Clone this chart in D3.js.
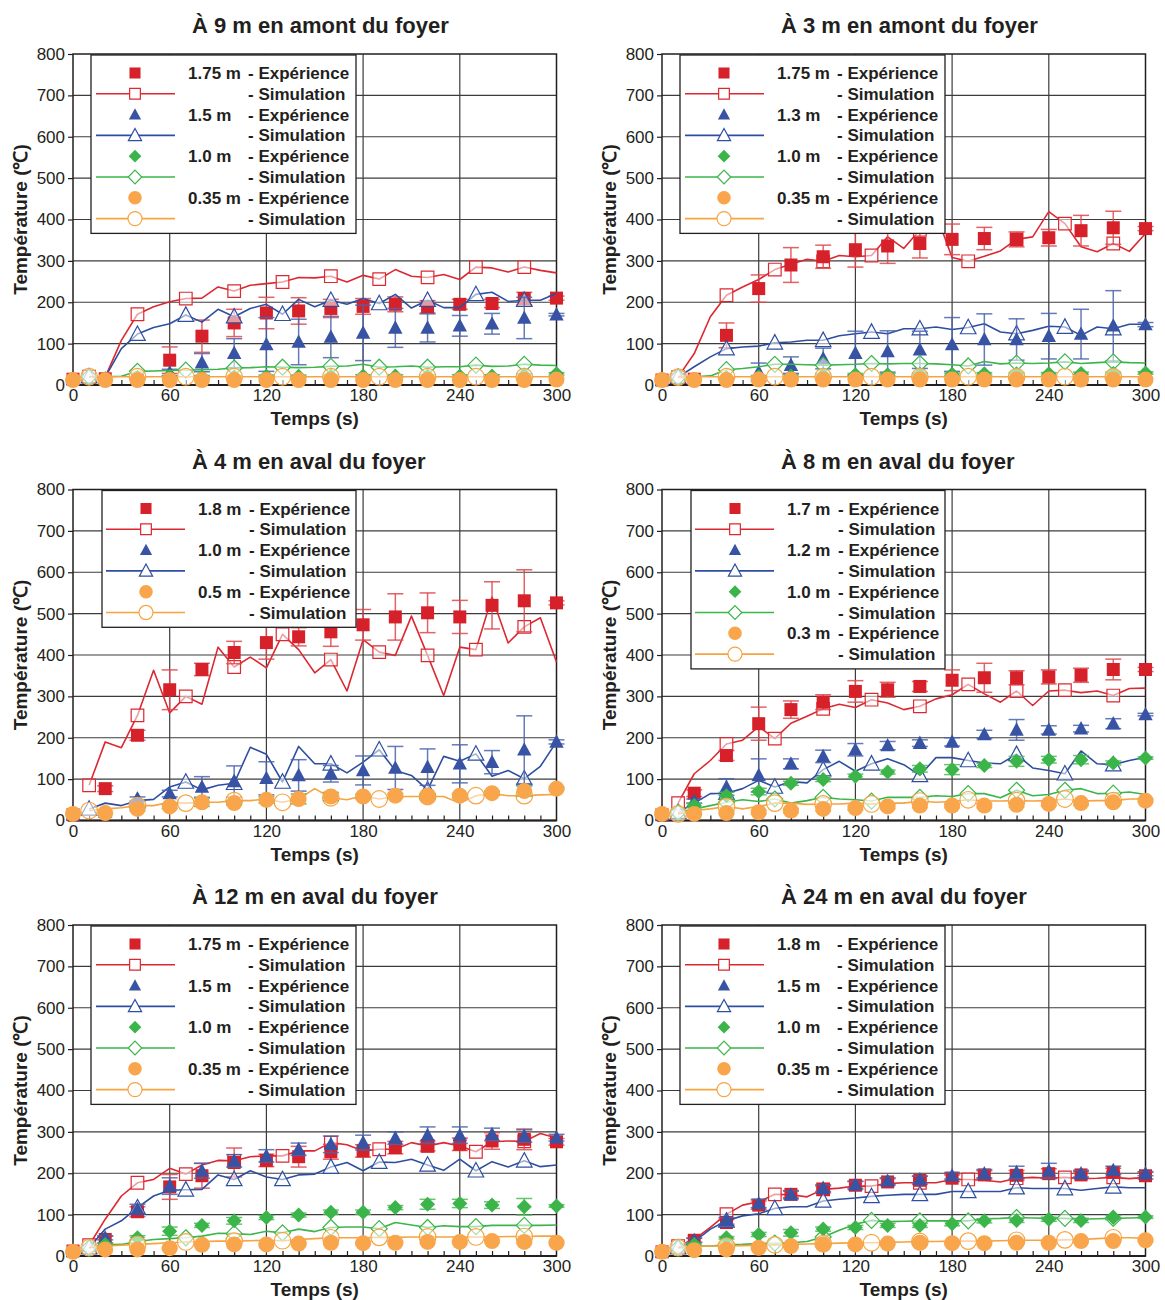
<!DOCTYPE html>
<html>
<head>
<meta charset="utf-8">
<script src="https://cdn.jsdelivr.net/npm/d3@7"></script>
<style>
  html, body { margin: 0; padding: 0; background: #fff; }
  #viz { width: 1165px; height: 1300px; }
</style>
</head>
<body>
<div id="viz"></div>
<script>
// temps des mesures / simulations
const expTimes = [0, 20, 40, 60, 80, 100, 120, 140, 160, 180, 200, 220, 240, 260, 280, 300];
const simTimes = [10, 20, 30, 40, 50, 60, 70, 80, 90, 100, 110, 120, 130, 140, 150, 160, 170, 180, 190, 200, 210, 220, 230, 240, 250, 260, 270, 280, 290, 300];
const simMarkTimes = [10, 40, 70, 100, 130, 160, 190, 220, 250, 280];
const xTicks = [0, 60, 120, 180, 240, 300];
const xMinorTicks = [10, 20, 30, 40, 50, 70, 80, 90, 100, 110, 130, 140, 150, 160, 170, 190, 200, 210, 220, 230, 250, 260, 270, 280, 290];
const yTicks = [0, 100, 200, 300, 400, 500, 600, 700, 800];

const titles = [
  "À 9 m en amont du foyer", "À 3 m en amont du foyer",
  "À 4 m en aval du foyer", "À 8 m en aval du foyer",
  "À 12 m en aval du foyer", "À 24 m en aval du foyer"
];
const p1Labels = ["1.75 m", "1.5 m", "1.0 m", "0.35 m"];
const p2Labels = ["1.75 m", "1.3 m", "1.0 m", "0.35 m"];
const p3Labels = ["1.8 m", "1.0 m", "0.5 m"];
const p4Labels = ["1.7 m", "1.2 m", "1.0 m", "0.3 m"];
const p5Labels = ["1.75 m", "1.5 m", "1.0 m", "0.35 m"];
const p6Labels = ["1.8 m", "1.5 m", "1.0 m", "0.35 m"];

// --- À 9 m en amont
const p1RedExp = [14, 15, 15, 60, 118, 150, 174, 179, 185, 190, 195, 189, 195, 197, 209, 210];
const p1RedErr = [0, 0, 0, 32, 39, 33, 38, 32, 22, 19, 18, 15, 12, 10, 15, 5];
const p1RedSim = [20, 19, 108, 171, 189, 201, 209, 210, 237, 227, 241, 245, 249, 260, 259, 263, 249, 265, 256, 279, 263, 260, 267, 255, 285, 283, 273, 285, 277, 271];
const p1BlueExp = [14, 15, 16, 30, 54, 77, 98, 104, 116, 126, 138, 138, 143, 148, 162, 170];
const p1BlueErr = [0, 0, 0, 8, 22, 35, 65, 55, 50, 67, 47, 34, 25, 25, 50, 3];
const p1BlueSim = [20, 19, 88, 123, 139, 148, 169, 152, 183, 165, 185, 195, 171, 207, 189, 205, 195, 209, 197, 219, 186, 205, 187, 187, 219, 224, 202, 205, 205, 221];
const p1GreenExp = [14, 15, 18, 20, 20, 20, 21, 21, 22, 22, 22, 22, 22, 22, 24, 27];
const p1GreenErr = [0, 0, 0, 3, 3, 3, 3, 3, 3, 3, 3, 3, 3, 3, 3, 3];
const p1GreenSim = [20, 20, 21, 33, 34, 35, 36, 37, 38, 41, 42, 44, 43, 42, 43, 45, 46, 50, 43, 44, 46, 43, 44, 44, 48, 45, 46, 50, 48, 47];
const p1OrangeExp = [12, 12, 12, 12, 12, 12, 12, 12, 12, 12, 12, 12, 12, 12, 12, 13];
const p1OrangeErr = [0, 0, 0, 0, 0, 0, 0, 0, 0, 0, 0, 0, 0, 0, 0, 0];
const p1OrangeSim = [20, 20, 20, 20, 20, 20, 20, 20, 20, 20, 20, 20, 20, 20, 20, 20, 20, 20, 20, 20, 20, 20, 20, 20, 20, 20, 20, 20, 20, 20];

// --- À 3 m en amont
const p2RedExp = [12, 14, 120, 233, 290, 310, 327, 336, 342, 352, 354, 352, 356, 373, 380, 378];
const p2RedErr = [0, 0, 30, 33, 42, 28, 42, 42, 35, 37, 27, 18, 20, 37, 40, 5];
const p2RedSim = [19, 76, 165, 217, 237, 255, 279, 292, 304, 299, 313, 310, 313, 358, 330, 375, 414, 308, 299, 311, 324, 352, 358, 419, 390, 334, 322, 342, 323, 366];
const p2BlueExp = [12, 14, 20, 31, 48, 64, 77, 81, 85, 98, 110, 110, 118, 123, 143, 146];
const p2BlueErr = [0, 0, 0, 22, 20, 25, 53, 50, 45, 65, 62, 50, 55, 60, 85, 5];
const p2BlueSim = [19, 44, 68, 88, 92, 94, 102, 104, 108, 108, 119, 124, 128, 124, 136, 136, 140, 134, 139, 148, 128, 124, 132, 142, 140, 120, 140, 136, 147, 147];
const p2GreenExp = [12, 14, 18, 20, 22, 24, 25, 25, 26, 26, 27, 27, 27, 28, 28, 29];
const p2GreenErr = [0, 0, 0, 3, 3, 3, 3, 3, 3, 3, 3, 3, 3, 3, 3, 3];
const p2GreenSim = [19, 20, 22, 37, 40, 44, 50, 50, 49, 48, 49, 50, 52, 51, 52, 52, 51, 49, 46, 57, 51, 53, 52, 53, 56, 52, 54, 56, 54, 53];
const p2OrangeExp = [12, 12, 12, 13, 13, 13, 13, 13, 13, 13, 13, 13, 13, 13, 13, 13];
const p2OrangeErr = [0, 0, 0, 0, 0, 0, 0, 0, 0, 0, 0, 0, 0, 0, 0, 0];
const p2OrangeSim = [19, 20, 20, 20, 20, 20, 20, 20, 20, 20, 20, 20, 20, 20, 20, 20, 20, 20, 20, 20, 20, 20, 20, 20, 20, 20, 20, 20, 20, 20];

// --- À 4 m en aval
const p3RedExp = [14, 77, 206, 316, 365, 406, 430, 444, 456, 473, 492, 502, 492, 520, 531, 526];
const p3RedErr = [0, 7, 12, 48, 15, 27, 40, 22, 35, 37, 56, 48, 40, 57, 75, 5];
const p3RedSim = [85, 190, 176, 254, 363, 260, 300, 281, 419, 371, 395, 369, 450, 413, 357, 389, 313, 437, 407, 399, 494, 399, 302, 419, 413, 540, 429, 468, 490, 383];
const p3BlueExp = [14, 20, 52, 65, 81, 94, 102, 109, 113, 121, 127, 129, 137, 141, 171, 190];
const p3BlueErr = [0, 0, 5, 8, 25, 38, 40, 38, 20, 35, 52, 44, 46, 28, 82, 5];
const p3BlueSim = [28, 42, 36, 48, 51, 81, 93, 74, 85, 90, 177, 160, 93, 179, 137, 137, 115, 141, 171, 121, 109, 74, 155, 143, 161, 107, 121, 101, 131, 190];
const p3OrangeExp = [16, 18, 28, 34, 44, 42, 50, 52, 58, 58, 60, 58, 60, 66, 71, 77];
const p3OrangeErr = [0, 0, 5, 5, 10, 5, 8, 12, 10, 5, 5, 5, 5, 5, 12, 3];
const p3OrangeSim = [24, 28, 31, 36, 36, 44, 42, 44, 44, 48, 48, 52, 44, 52, 77, 55, 50, 60, 52, 58, 58, 58, 58, 42, 60, 65, 60, 60, 62, 63];

// --- À 8 m en aval
const p4RedExp = [14, 66, 157, 234, 268, 286, 312, 316, 324, 339, 345, 345, 347, 351, 365, 365];
const p4RedErr = [0, 8, 12, 40, 21, 18, 26, 18, 12, 25, 35, 17, 17, 17, 25, 5];
const p4RedSim = [42, 113, 145, 185, 194, 227, 198, 235, 252, 270, 281, 273, 292, 284, 268, 276, 294, 304, 329, 306, 286, 313, 278, 313, 315, 309, 313, 302, 319, 320];
const p4BlueExp = [14, 47, 81, 109, 137, 155, 171, 181, 187, 190, 208, 219, 219, 222, 234, 256];
const p4BlueErr = [0, 5, 20, 40, 12, 15, 15, 10, 8, 10, 10, 25, 10, 8, 12, 3];
const p4BlueSim = [20, 42, 65, 66, 77, 97, 81, 94, 91, 123, 143, 119, 137, 149, 135, 109, 152, 152, 145, 139, 137, 160, 127, 121, 113, 168, 137, 135, 145, 153];
const p4GreenExp = [14, 36, 60, 70, 90, 99, 107, 117, 125, 123, 133, 143, 147, 147, 139, 151];
const p4GreenErr = [0, 5, 8, 8, 5, 5, 5, 5, 8, 12, 5, 12, 8, 10, 5, 3];
const p4GreenSim = [20, 28, 36, 44, 50, 46, 52, 42, 48, 56, 52, 50, 47, 56, 56, 56, 60, 58, 65, 65, 55, 73, 60, 63, 73, 77, 65, 66, 69, 63];
const p4OrangeExp = [16, 16, 18, 20, 24, 28, 30, 34, 36, 36, 36, 38, 40, 42, 44, 48];
const p4OrangeErr = [0, 0, 3, 5, 5, 5, 5, 5, 5, 5, 5, 5, 5, 5, 5, 3];
const p4OrangeSim = [16, 24, 28, 34, 28, 34, 42, 42, 39, 40, 40, 42, 40, 42, 42, 47, 44, 46, 50, 47, 47, 48, 47, 48, 52, 47, 48, 48, 52, 52];

// --- À 12 m en aval
const p5RedExp = [12, 40, 107, 167, 194, 226, 231, 240, 252, 254, 262, 266, 270, 278, 282, 276];
const p5RedErr = [0, 8, 12, 30, 30, 35, 15, 25, 18, 15, 15, 12, 15, 20, 25, 8];
const p5RedSim = [26, 89, 145, 177, 185, 212, 198, 220, 231, 230, 240, 242, 242, 254, 254, 274, 269, 254, 258, 258, 274, 266, 274, 266, 252, 276, 278, 277, 296, 285];
const p5BlueExp = [12, 44, 113, 169, 206, 230, 242, 258, 270, 274, 285, 292, 292, 294, 290, 286];
const p5BlueErr = [0, 5, 12, 20, 18, 15, 15, 15, 20, 18, 15, 20, 20, 15, 15, 8];
const p5BlueSim = [20, 65, 85, 117, 145, 159, 160, 161, 196, 185, 206, 191, 185, 196, 198, 215, 226, 206, 227, 226, 234, 220, 207, 234, 206, 228, 215, 230, 216, 220];
const p5GreenExp = [12, 28, 44, 60, 74, 85, 93, 99, 106, 106, 117, 125, 127, 123, 119, 121];
const p5GreenErr = [0, 3, 5, 10, 5, 8, 5, 5, 5, 5, 5, 12, 10, 8, 20, 3];
const p5GreenSim = [20, 27, 28, 35, 40, 42, 44, 48, 55, 54, 52, 60, 56, 65, 59, 69, 70, 70, 66, 81, 75, 69, 73, 71, 71, 74, 74, 74, 74, 75];
const p5OrangeExp = [10, 16, 16, 19, 27, 28, 28, 30, 32, 31, 32, 34, 34, 36, 34, 32];
const p5OrangeErr = [0, 0, 3, 3, 3, 3, 3, 3, 3, 3, 3, 3, 3, 3, 3, 3];
const p5OrangeSim = [20, 24, 26, 28, 30, 32, 34, 35, 36, 36, 37, 38, 37, 40, 42, 44, 44, 44, 45, 45, 46, 46, 46, 46, 46, 46, 47, 47, 48, 48];

// --- À 24 m en aval
const p6RedExp = [10, 38, 81, 123, 149, 161, 171, 179, 183, 188, 196, 195, 199, 196, 202, 194];
const p6RedErr = [0, 5, 8, 10, 8, 8, 10, 8, 10, 8, 10, 12, 12, 8, 10, 8];
const p6RedSim = [24, 40, 69, 101, 123, 131, 149, 148, 143, 161, 164, 169, 169, 175, 177, 177, 177, 185, 185, 183, 179, 188, 190, 188, 190, 187, 188, 190, 187, 190];
const p6BlueExp = [10, 38, 85, 127, 148, 164, 172, 181, 185, 194, 199, 202, 206, 199, 207, 199];
const p6BlueErr = [0, 5, 8, 10, 10, 8, 8, 8, 8, 8, 10, 15, 18, 8, 10, 5];
const p6BlueSim = [20, 35, 65, 85, 97, 102, 115, 119, 119, 133, 137, 140, 144, 147, 149, 149, 149, 156, 156, 156, 156, 165, 163, 163, 163, 159, 163, 167, 165, 165];
const p6GreenExp = [10, 28, 44, 52, 56, 65, 69, 74, 74, 78, 85, 86, 89, 86, 93, 94];
const p6GreenErr = [0, 3, 3, 5, 8, 5, 5, 5, 5, 5, 5, 5, 5, 5, 5, 3];
const p6GreenSim = [20, 24, 24, 27, 28, 30, 31, 32, 35, 46, 62, 77, 86, 83, 84, 85, 85, 85, 85, 90, 91, 93, 92, 91, 91, 89, 90, 91, 92, 93];
const p6OrangeExp = [10, 14, 16, 20, 24, 28, 28, 30, 32, 31, 31, 32, 32, 36, 36, 38];
const p6OrangeErr = [0, 0, 3, 3, 3, 3, 3, 3, 3, 3, 3, 3, 3, 3, 3, 3];
const p6OrangeSim = [20, 23, 24, 24, 25, 26, 27, 28, 29, 30, 31, 32, 32, 33, 34, 35, 35, 36, 36, 36, 37, 38, 38, 38, 39, 40, 42, 44, 44, 43];

const font = "'Liberation Sans', Arial, Helvetica, sans-serif";
const textColor = "#231f20";
const frameColor = "#231f20";
const gridColor = "#3c3c3c";

const colors = {
  red:    { fill: "#d7212a", line: "#dc2830", err: "#e0464c" },
  blue:   { fill: "#3853a4", line: "#2e4fa0", err: "#4a64ad" },
  green:  { fill: "#3bb44a", line: "#3cb54b", err: "#4cbb58" },
  orange: { fill: "#f9a54c", line: "#f7a33f", err: "#f7a33f" }
};
const shapes = { red: "square", blue: "triangle", green: "diamond", orange: "circle" };

const legendLayouts = {
  A: { box: 18, sym: 62, l0: 23, l1: 102, label: 115, dash: 175, right: 283 },
  B: { box: 29, sym: 73, l0: 33, l1: 112, label: 125, dash: 176, right: 283 }
};

const colLeft = [73, 662];
const rowTop = [54, 489.5, 925];
const plotW = 483.5;
const plotH = 331;

function mk(c, label, exp, err, sim, errColor) {
  return { c, label, exp, err, sim, errColor };
}

const panels = [
  { title: titles[0], layout: "A", series: [
    mk("red", p1Labels[0], p1RedExp, p1RedErr, p1RedSim),
    mk("blue", p1Labels[1], p1BlueExp, p1BlueErr, p1BlueSim),
    mk("green", p1Labels[2], p1GreenExp, p1GreenErr, p1GreenSim),
    mk("orange", p1Labels[3], p1OrangeExp, p1OrangeErr, p1OrangeSim)] },
  { title: titles[1], layout: "A", series: [
    mk("red", p2Labels[0], p2RedExp, p2RedErr, p2RedSim),
    mk("blue", p2Labels[1], p2BlueExp, p2BlueErr, p2BlueSim),
    mk("green", p2Labels[2], p2GreenExp, p2GreenErr, p2GreenSim),
    mk("orange", p2Labels[3], p2OrangeExp, p2OrangeErr, p2OrangeSim)] },
  { title: titles[2], layout: "B", series: [
    mk("red", p3Labels[0], p3RedExp, p3RedErr, p3RedSim),
    mk("blue", p3Labels[1], p3BlueExp, p3BlueErr, p3BlueSim),
    mk("orange", p3Labels[2], p3OrangeExp, p3OrangeErr, p3OrangeSim, colors.green.err)] },
  { title: titles[3], layout: "B", series: [
    mk("red", p4Labels[0], p4RedExp, p4RedErr, p4RedSim),
    mk("blue", p4Labels[1], p4BlueExp, p4BlueErr, p4BlueSim),
    mk("green", p4Labels[2], p4GreenExp, p4GreenErr, p4GreenSim),
    mk("orange", p4Labels[3], p4OrangeExp, p4OrangeErr, p4OrangeSim)] },
  { title: titles[4], layout: "A", series: [
    mk("red", p5Labels[0], p5RedExp, p5RedErr, p5RedSim),
    mk("blue", p5Labels[1], p5BlueExp, p5BlueErr, p5BlueSim),
    mk("green", p5Labels[2], p5GreenExp, p5GreenErr, p5GreenSim),
    mk("orange", p5Labels[3], p5OrangeExp, p5OrangeErr, p5OrangeSim)] },
  { title: titles[5], layout: "A", series: [
    mk("red", p6Labels[0], p6RedExp, p6RedErr, p6RedSim),
    mk("blue", p6Labels[1], p6BlueExp, p6BlueErr, p6BlueSim),
    mk("green", p6Labels[2], p6GreenExp, p6GreenErr, p6GreenSim),
    mk("orange", p6Labels[3], p6OrangeExp, p6OrangeErr, p6OrangeSim)] }
];

function shapePath(shape, hollow, k) {
  if (shape === "square") {
    const s = (hollow ? 6.3 : 6.5) * k;
    return `M${-s},${-s}H${s}V${s}H${-s}Z`;
  }
  if (shape === "triangle") {
    const s = (hollow ? 7.8 : 7.2) * k;
    return `M0,${-s * 1.05}L${s},${s * 0.8}L${-s},${s * 0.8}Z`;
  }
  if (shape === "diamond") {
    const s = (hollow ? 8 : 7.5) * k;
    return `M0,${-s}L${s},0L0,${s}L${-s},0Z`;
  }
  const r = (hollow ? 8.3 : 8) * k;
  const p = d3.path();
  p.arc(0, 0, r, 0, 2 * Math.PI);
  p.closePath();
  return p.toString();
}

function drawMarker(g, s, cx, cy, hollow, k = 1) {
  const col = colors[s.c];
  const el = g.append("path")
    .attr("d", shapePath(shapes[s.c], hollow, k))
    .attr("transform", `translate(${cx},${cy})`);
  if (hollow) {
    el.attr("fill", "#fff").attr("fill-opacity", 0.55).attr("stroke", col.line).attr("stroke-width", 1.2);
  } else {
    el.attr("fill", col.fill);
  }
  return el;
}

function drawPanel(svg, p, x0, y0) {
  const x = d3.scaleLinear().domain([0, 300]).range([x0, x0 + plotW]);
  const y = d3.scaleLinear().domain([0, 800]).range([y0 + plotH, y0]);
  const g = svg.append("g").attr("class", "panel");

  // grille
  g.append("g").selectAll("line").data(yTicks.slice(1, -1)).join("line")
    .attr("x1", x(0)).attr("x2", x(300))
    .attr("y1", (d) => y(d)).attr("y2", (d) => y(d))
    .attr("stroke", gridColor).attr("stroke-width", 1.2);
  g.append("g").selectAll("line").data(xTicks.slice(1, -1)).join("line")
    .attr("x1", (d) => x(d)).attr("x2", (d) => x(d))
    .attr("y1", y(0)).attr("y2", y(800))
    .attr("stroke", gridColor).attr("stroke-width", 1.2);

  // axes
  const ya = g.append("g").attr("transform", `translate(${x0},0)`)
    .call(d3.axisLeft(y).tickValues(yTicks).tickSize(5).tickPadding(3));
  ya.select(".domain").remove();
  ya.selectAll("line").attr("stroke", frameColor).attr("stroke-width", 1.2);
  ya.selectAll("text").attr("font-size", 17).attr("font-family", font).attr("fill", textColor);

  const xa = g.append("g").attr("transform", `translate(0,${y0 + plotH})`)
    .call(d3.axisBottom(x).tickValues(xTicks).tickSize(0).tickPadding(4));
  xa.select(".domain").remove();
  xa.selectAll("text").attr("font-size", 17).attr("font-family", font).attr("fill", textColor);

  const xm = g.append("g").attr("transform", `translate(0,${y0 + plotH})`)
    .call(d3.axisBottom(x).tickValues(xMinorTicks).tickSize(-5).tickFormat(""));
  xm.select(".domain").remove();
  xm.selectAll("line").attr("stroke", frameColor).attr("stroke-width", 1.2);

  g.append("rect")
    .attr("x", x0).attr("y", y0).attr("width", plotW).attr("height", plotH)
    .attr("fill", "none").attr("stroke", frameColor).attr("stroke-width", 1.5);
  g.append("line")
    .attr("x1", x0).attr("x2", x0 + plotW).attr("y1", y0 + plotH).attr("y2", y0 + plotH)
    .attr("stroke", frameColor).attr("stroke-width", 2);

  // séries
  const line = d3.line().x((d, i) => x(simTimes[i])).y((d) => y(d));
  for (const s of p.series) {
    const col = colors[s.c];
    const sg = g.append("g");
    sg.append("path").datum(s.sim)
      .attr("d", line).attr("fill", "none")
      .attr("stroke", col.line).attr("stroke-width", 1.6).attr("stroke-linejoin", "round");
    for (const t of simMarkTimes) {
      const v = s.sim[simTimes.indexOf(t)];
      drawMarker(sg, s, x(t), y(v), true);
    }
    const ec = s.errColor || col.err;
    expTimes.forEach((t, i) => {
      const e = s.err[i];
      if (!e) return;
      const v = s.exp[i];
      const cx = x(t);
      sg.append("line").attr("x1", cx).attr("x2", cx).attr("y1", y(v - e)).attr("y2", y(v + e))
        .attr("stroke", ec).attr("stroke-width", 1.5).attr("stroke-opacity", 0.85);
      [v - e, v + e].forEach((b) => {
        sg.append("line").attr("x1", cx - 8).attr("x2", cx + 8).attr("y1", y(b)).attr("y2", y(b))
          .attr("stroke", ec).attr("stroke-width", 1.5).attr("stroke-opacity", 0.85);
      });
    });
    expTimes.forEach((t, i) => drawMarker(sg, s, x(t), y(s.exp[i]), false));
  }

  // légende
  const L = legendLayouts[p.layout];
  const rowH = 20.8;
  const nRows = p.series.length * 2;
  const lg = g.append("g");
  lg.append("rect")
    .attr("x", x0 + L.box).attr("y", y0 + 1)
    .attr("width", L.right - L.box).attr("height", nRows * rowH + 12)
    .attr("fill", "#fff").attr("stroke", frameColor).attr("stroke-width", 1.3);
  p.series.forEach((s, i) => {
    const col = colors[s.c];
    const cy1 = y0 + 19 + 2 * i * rowH;
    const cy2 = cy1 + rowH;
    drawMarker(lg, s, x0 + L.sym, cy1, false, 0.85);
    lg.append("line").attr("x1", x0 + L.l0).attr("x2", x0 + L.l1).attr("y1", cy2).attr("y2", cy2)
      .attr("stroke", col.line).attr("stroke-width", 1.6);
    drawMarker(lg, s, x0 + L.sym, cy2, true, 0.85).attr("fill-opacity", 1);
    lg.append("text").attr("x", x0 + L.label).attr("y", cy1 + 6).text(s.label);
    lg.append("text").attr("x", x0 + L.dash).attr("y", cy1 + 6).text("- Expérience");
    lg.append("text").attr("x", x0 + L.dash).attr("y", cy2 + 6).text("- Simulation");
  });
  lg.selectAll("text")
    .attr("font-family", font).attr("font-size", 17).attr("font-weight", "bold").attr("fill", textColor);

  // titres
  g.append("text")
    .attr("x", x0 + 119).attr("y", y0 - 21)
    .attr("text-anchor", "start").attr("font-family", font)
    .attr("font-size", 22).attr("font-weight", "bold").attr("fill", textColor)
    .text(p.title);
  g.append("text")
    .attr("x", x0 + plotW / 2).attr("y", y0 + plotH + 40)
    .attr("text-anchor", "middle").attr("font-family", font)
    .attr("font-size", 19).attr("font-weight", "bold").attr("fill", textColor)
    .text("Temps (s)");
  g.append("text")
    .attr("transform", `translate(${x0 - 46},${y0 + plotH / 2}) rotate(-90)`)
    .attr("text-anchor", "middle").attr("font-family", font)
    .attr("font-size", 19).attr("font-weight", "bold").attr("fill", textColor)
    .text("Température (℃)");
}

function draw() {
  const root = document.getElementById("viz");
  const svg = d3.select(root).append("svg")
    .attr("width", 1165).attr("height", 1300)
    .style("background", "#fff");
  panels.forEach((p, i) => {
    drawPanel(svg, p, colLeft[i % 2], rowTop[Math.floor(i / 2)]);
  });
}

draw();
</script>
</body>
</html>
